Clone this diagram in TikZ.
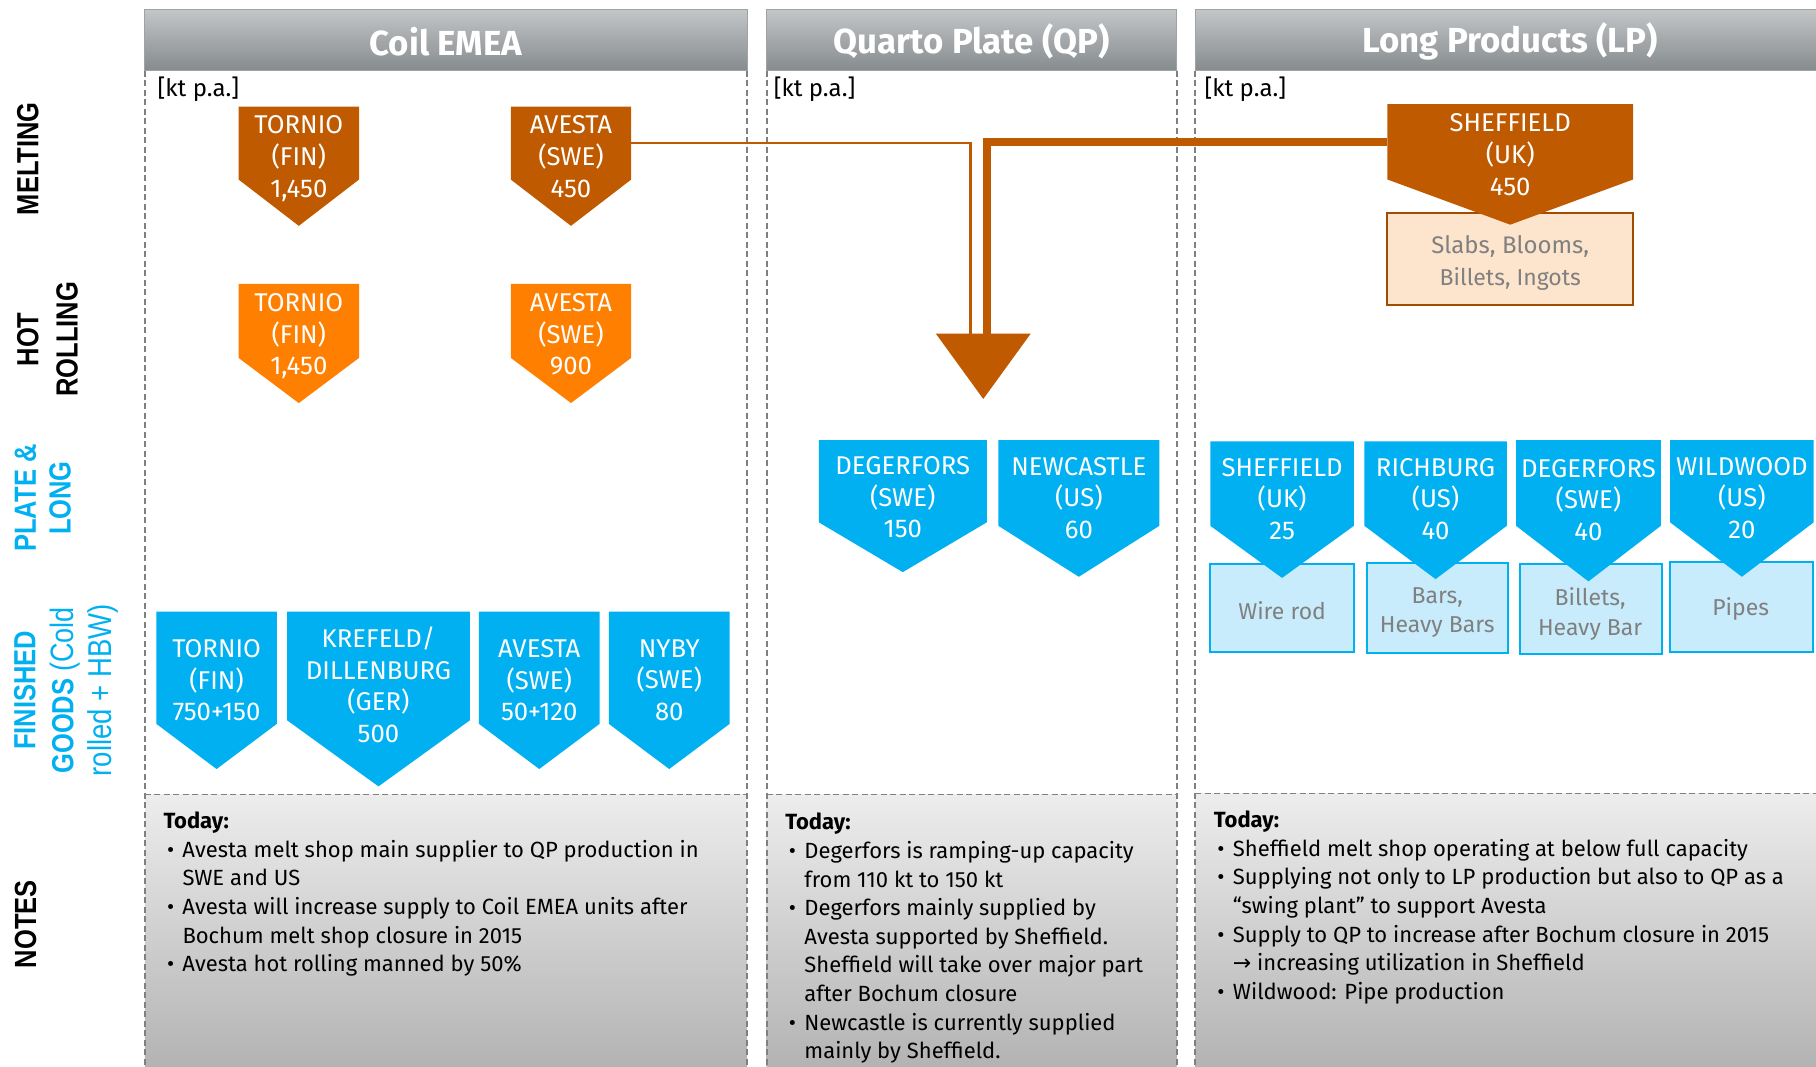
\documentclass[tikz,border=0pt]{standalone}
\usepackage{fontspec}
\usepackage{graphicx}
\setmainfont{Fira Sans}
\newfontfamily\labelfont{Liberation Sans}
\newfontfamily\symfont{DejaVu Sans}
\usetikzlibrary{calc}

\definecolor{meltorange}{HTML}{C05A00}
\definecolor{hotorange}{HTML}{FF7F00}
\definecolor{skyblue}{HTML}{00B0F0}
\definecolor{paleblue}{HTML}{C8ECFC}
\definecolor{peach}{HTML}{FDE4CC}
\definecolor{peachedge}{HTML}{A24C00}
\definecolor{boxgray}{HTML}{808080}
\definecolor{dashgray}{HTML}{808080}
\definecolor{headtop}{HTML}{C4C7C8}
\definecolor{headbot}{HTML}{858A8D}
\definecolor{headedge}{HTML}{A0A3A5}
\definecolor{notetop}{HTML}{EDEDED}
\definecolor{notebot}{HTML}{B3B3B3}

% chevron: name, left x, right x, top y, shoulder y, tip y, colour, text y, text
\newcommand{\mkchev}[9]{%
  \fill[#7] (#2,#4) -- (#3,#4) -- (#3,#5) -- ({(#2+#3)/2},#6) -- (#2,#5) -- cycle;
  \coordinate (#1-tip) at ({(#2+#3)/2},#6);
  \node[chevtext] (#1) at ({(#2+#3)/2},{#8+0.7}) {#9};
}
\newcommand{\tallrow}[1]{\scalebox{1}[1.2]{#1}}
\newcommand{\bul}{\makebox[19pt][l]{\hspace{3.5pt}\textbullet}}
\newcommand{\cont}{\hspace*{19pt}}

\tikzset{
  chevtext/.style={text=white, align=center, inner sep=0pt, text depth=0pt, font=\fontsize{25.7}{31.6}\selectfont},
  boxtext/.style={text=boxgray, align=center, inner sep=0pt, font=\fontsize{23}{#1}\selectfont},
  boxtext/.default=29.5,
  headtext/.style={text=white, inner sep=0pt, font=\fontsize{34.8}{40}\selectfont\bfseries},
  unitlabel/.style={anchor=west, inner sep=0pt, font=\fontsize{24}{28}\selectfont},
  notetext/.style={anchor=north west, align=left, inner sep=0pt, font=\fontsize{22}{28.6}\selectfont},
  rowlabel/.style={rotate=90, align=center, inner sep=0pt, font=\labelfont\bfseries\fontsize{25.5}{#1}\selectfont},
  rowlabel/.default=38,
  colborder/.style={draw=dashgray, line width=1.6pt, dash pattern=on 6pt off 3.5pt},
  headfill/.style={top color=headtop, bottom color=headbot, draw=headedge, line width=0.8pt},
  notefill/.style={top color=notetop, bottom color=notebot},
  prodfill/.style={fill=paleblue, draw=skyblue, line width=2pt},
  slabfill/.style={fill=peach, draw=peachedge, line width=2pt},
  feedthin/.style={draw=meltorange, line width=2.4pt},
  feedthick/.style={draw=meltorange, line width=8pt},
}

\begin{document}
\begin{tikzpicture}[x=1.1582pt, y=-1.1582pt]
\useasboundingbox[fill=white] (0,0) rectangle (1568,921);

% notes backgrounds
\path[notefill] (125,686) rectangle (645,921);
\path[notefill] (662,686) rectangle (1016,921);
\path[notefill] (1032,685) rectangle (1568,921);
\draw[colborder] (125,686) -- (645,686);
\draw[colborder] (662,686) -- (1016,686);
\draw[colborder] (1032,685) -- (1568,685);

% column borders
\draw[colborder] (125,61) -- (125,921);
\draw[colborder] (645,61) -- (645,921);
\draw[colborder] (662,61) -- (662,921);
\draw[colborder] (1016,61) -- (1016,921);
\draw[colborder] (1032,61) -- (1032,921);

% column headers
\path[headfill] (125,8) rectangle (645,61);
\path[headfill] (662,8) rectangle (1016,61);
\path[headfill] (1032,8) rectangle (1570,61);
\node[headtext] (hcoil) at (385,36) {Coil EMEA};
\node[headtext] (hqp) at (839,36) {Quarto Plate (QP)};
\node[headtext] (hlp) at (1304,36) {Long Products (LP)};

\node[unitlabel] (ucoil) at (136,77) {[kt p.a.]};
\node[unitlabel] (uqp) at (668,77) {[kt p.a.]};
\node[unitlabel] (ulp) at (1040,77) {[kt p.a.]};

% row labels
\node[rowlabel] (lmelt) at (24,137) {\tallrow{MELTING}};
\node[rowlabel=39.4] (lhot) at (41,293) {\tallrow{HOT}\\\tallrow{ROLLING}};
\node[rowlabel=34.7, text=skyblue] (lplate) at (37,430) {\tallrow{PLATE \&}\\\tallrow{LONG}};
\node[rowlabel=38, text=skyblue] (lfin) at (57,596)
  {\tallrow{FINISHED}\\\tallrow{GOODS {\mdseries\fontsize{27}{38}\selectfont(Cold}}\\\tallrow{\mdseries\fontsize{27.5}{38}\selectfont rolled + HBW)}};
\node[rowlabel] (lnotes) at (22,798) {\tallrow{NOTES}};

% product boxes under the long-product mills
\path[slabfill] (1198,184) rectangle (1410,263);
\node[boxtext=32.4] (slabs) at (1304,227) {\fontsize{24}{32.4}\selectfont Slabs, Blooms,\\Billets, Ingots};
\path[prodfill] (1045,487) rectangle (1169,563);
\path[prodfill] (1180,486) rectangle (1302,564);
\path[prodfill] (1312,487) rectangle (1435,565);
\path[prodfill] (1442,485) rectangle (1565,563);
\node[boxtext] (wire) at (1107,527) {Wire rod};
\node[boxtext] (bars) at (1241,529) {Bars,\\Heavy Bars};
\node[boxtext] (billets) at (1373,530) {Billets,\\Heavy Bar};
\node[boxtext] (pipes) at (1503,526) {Pipes};

% supply lines into Quarto Plate
\coordinate (avestaM-feed) at (545,123.5);
\coordinate (shefM-feed) at (1198,122.3);
\coordinate (qpHeadThin) at (838,289);
\coordinate (qpHeadThick) at (852,289);
\draw[feedthin] (avestaM-feed) -| (qpHeadThin);
\draw[feedthick] (shefM-feed) -| (qpHeadThick);
\fill[meltorange] (808,288) -- (890,288) -- (849,344.5) -- cycle;

% melting
\mkchev{tornioM}{206}{310}{92}{155}{195}{meltorange}{134.5}{TORNIO\\(FIN)\\1,450}
\mkchev{avestaM}{441}{545}{92}{155}{195}{meltorange}{134.5}{AVESTA\\(SWE)\\450}
\mkchev{shefM}{1198}{1410}{90}{155}{194}{meltorange}{132.7}{SHEFFIELD\\(UK)\\450}

% hot rolling
\mkchev{tornioH}{206}{310}{245}{309}{348}{hotorange}{287.7}{TORNIO\\(FIN)\\1,450}
\mkchev{avestaH}{441}{545}{245}{309}{348}{hotorange}{287.7}{AVESTA\\(SWE)\\900}

% plate and long
\mkchev{degQ}{707}{852}{380}{451}{494}{skyblue}{428.5}{DEGERFORS\\(SWE)\\150}
\mkchev{newQ}{862}{1001}{380}{454}{498}{skyblue}{429}{NEWCASTLE\\(US)\\60}
\mkchev{shefL}{1045}{1169}{381}{454}{499}{skyblue}{430}{SHEFFIELD\\(UK)\\25}
\mkchev{richL}{1178}{1301}{381}{454}{500}{skyblue}{430}{RICHBURG\\(US)\\40}
\mkchev{degL}{1309}{1434}{380}{454}{502}{skyblue}{431}{DEGERFORS\\(SWE)\\40}
\mkchev{wildL}{1442}{1566}{380}{451}{498}{skyblue}{429}{WILDWOOD\\(US)\\20}

% finished goods
\mkchev{tornioF}{135}{239}{528}{625}{664}{skyblue}{586.5}{TORNIO\\(FIN)\\750+150}
\mkchev{krefF}{248}{405.6}{528}{622}{679}{skyblue}{590.5}{KREFELD/\\DILLENBURG\\(GER)\\500}
\mkchev{avestaF}{413.5}{517.7}{528}{625}{664}{skyblue}{586.5}{AVESTA\\(SWE)\\50+120}
\mkchev{nybyF}{525.7}{630}{528}{625}{664}{skyblue}{586.5}{NYBY\\(SWE)\\80}

% notes
\node[notetext] (ncoil) at (141,701) {\textbf{Today:}\\
\bul Avesta melt shop main supplier to QP production in\\
\cont SWE and US\\
\bul Avesta will increase supply to Coil EMEA units after\\
\cont Bochum melt shop closure in 2015\\
\bul Avesta hot rolling manned by 50\%};

\node[notetext] (nqp) at (678,702) {\textbf{Today:}\\
\bul Degerfors is ramping-up capacity\\
\cont from 110 kt to 150 kt\\
\bul Degerfors mainly supplied by\\
\cont Avesta supported by Sheffield.\\
\cont Sheffield will take over major part\\
\cont after Bochum closure\\
\bul Newcastle is currently supplied\\
\cont mainly by Sheffield.};

\node[notetext] (nlp) at (1048,700) {\textbf{Today:}\\
\bul Sheffield melt shop operating at below full capacity\\
\bul Supplying not only to LP production but also to QP as a\\
\cont “swing plant” to support Avesta\\
\bul Supply to QP to increase after Bochum closure in 2015\\
\cont {\symfont →} increasing utilization in Sheffield\\
\bul Wildwood: Pipe production};

\end{tikzpicture}
\end{document}
